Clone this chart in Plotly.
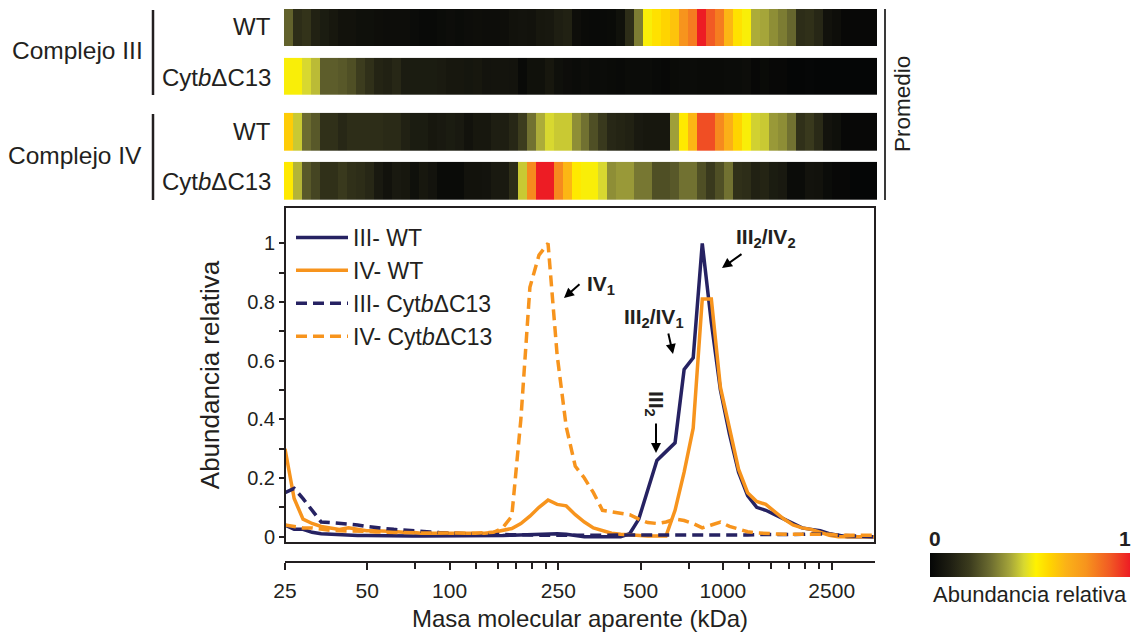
import math
import plotly.graph_objects as go

# ---------------- data ----------------
mw_kda = [25.0, 27.0, 29.1, 31.4, 33.9, 36.6, 39.5, 42.7, 46.1, 49.7,
          53.7, 57.9, 62.5, 67.5, 72.9, 78.7, 84.9, 91.6, 98.9, 106.8,
          115.2, 124.4, 134.3, 144.9, 156.4, 168.9, 182.3, 196.7, 212.4, 229.2,
          247.4, 267.1, 288.3, 311.2, 335.9, 362.5, 391.3, 422.4, 456.0, 492.2,
          531.2, 573.4, 619.0, 668.1, 721.2, 778.4, 840.2, 907.0, 979.0, 1056.7,
          1140.6, 1231.2, 1329.0, 1434.6, 1548.5, 1671.5, 1804.2, 1947.5, 2102.2, 2269.1,
          2449.3, 2643.8, 2853.8, 3080.4, 3325.1, 3589.1]
fraction = list(range(1, 67))

iii_wt = [0.04, 0.025, 0.025, 0.015, 0.01, 0.008, 0.006, 0.005, 0.004, 0.004,
          0.003, 0.003, 0.003, 0.003, 0.002, 0.002, 0.002, 0.002, 0.002, 0.002,
          0.002, 0.003, 0.003, 0.004, 0.004, 0.005, 0.006, 0.007, 0.008, 0.01,
          0.01, 0.008, 0.003, 0.0, 0.0, 0.0, 0.0, 0.0, 0.01, 0.06,
          0.16, 0.26, 0.29, 0.32, 0.57, 0.61, 1.0, 0.73, 0.5, 0.35,
          0.22, 0.14, 0.1, 0.09, 0.075, 0.06, 0.045, 0.03, 0.025, 0.02,
          0.01, 0.005, 0.0, 0.0, 0.0, 0.0]
iv_wt = [0.30, 0.13, 0.06, 0.045, 0.035, 0.03, 0.025, 0.03, 0.025, 0.02,
         0.02, 0.02, 0.018, 0.015, 0.015, 0.012, 0.012, 0.01, 0.01, 0.01,
         0.01, 0.01, 0.012, 0.015, 0.02, 0.028, 0.045, 0.07, 0.1, 0.125,
         0.11, 0.105, 0.075, 0.05, 0.03, 0.02, 0.012, 0.008, 0.005, 0.003,
         0.002, 0.002, 0.002, 0.09, 0.22, 0.37, 0.81, 0.81, 0.51, 0.37,
         0.23, 0.15, 0.12, 0.11, 0.085, 0.06, 0.04, 0.03, 0.025, 0.015,
         0.005, 0.0, 0.0, 0.0, 0.0, 0.0]
iii_cyt = [0.15, 0.165, 0.13, 0.09, 0.05, 0.048, 0.046, 0.044, 0.04, 0.035,
           0.03, 0.028, 0.025, 0.022, 0.02, 0.018, 0.016, 0.014, 0.012, 0.01,
           0.01, 0.009, 0.008, 0.008, 0.007, 0.007, 0.006, 0.006, 0.005, 0.005,
           0.005, 0.005, 0.005, 0.004, 0.004, 0.004, 0.004, 0.004, 0.004, 0.004,
           0.004, 0.004, 0.004, 0.004, 0.005, 0.005, 0.005, 0.005, 0.005, 0.006,
           0.006, 0.006, 0.007, 0.007, 0.008, 0.008, 0.008, 0.008, 0.01, 0.01,
           0.008, 0.005, 0.003, 0.002, 0.001, 0.0]
iv_cyt = [0.04, 0.035, 0.03, 0.03, 0.025, 0.022, 0.02, 0.02, 0.02, 0.018,
          0.016, 0.015, 0.015, 0.014, 0.014, 0.013, 0.013, 0.012, 0.012, 0.012,
          0.012, 0.012, 0.013, 0.015, 0.03, 0.07, 0.40, 0.85, 0.96, 1.0,
          0.62, 0.375, 0.24, 0.20, 0.15, 0.09, 0.085, 0.08, 0.075, 0.06,
          0.048, 0.045, 0.05, 0.06, 0.055, 0.045, 0.03, 0.04, 0.05, 0.035,
          0.025, 0.017, 0.013, 0.011, 0.01, 0.008, 0.008, 0.008, 0.008, 0.008,
          0.008, 0.005, 0.005, 0.005, 0.005, 0.005]

# heat-map rows (promedio, relative abundance 0-1 on colour scale)
hm_iii_wt = [0.28, 0.15, 0.17, 0.11, 0.09, 0.07, 0.05, 0.05, 0.04, 0.04,
             0.035, 0.03, 0.03, 0.03, 0.025, 0.015, 0.015, 0.025, 0.03, 0.025,
             0.03, 0.035,
             0.03, 0.03, 0.035, 0.05, 0.055, 0.05, 0.07, 0.075, 0.1, 0.11,
             0.035, 0.02, 0.015, 0.015, 0.02, 0.045, 0.15, 0.33, 0.52, 0.57,
             0.6, 0.64,
             0.78, 0.83, 1.0, 0.9, 0.83, 0.67, 0.57, 0.52, 0.41, 0.40,
             0.36, 0.33, 0.29, 0.15, 0.16, 0.13, 0.05, 0.035, 0.01, 0.01,
             0.01, 0.01]
hm_iii_cyt = [0.52, 0.52, 0.47, 0.43, 0.27, 0.27, 0.26, 0.24, 0.2, 0.16,
              0.12, 0.11, 0.13, 0.09, 0.09, 0.09, 0.09, 0.085, 0.07, 0.07,
              0.065, 0.07,
              0.055, 0.06, 0.06, 0.055, 0.015, 0.045, 0.045, 0.07, 0.04, 0.03,
              0.025, 0.03, 0.025, 0.025, 0.02, 0.015, 0.025, 0.025, 0.025, 0.015,
              0.01, 0.02,
              0.025, 0.025, 0.02, 0.02, 0.02, 0.025, 0.025, 0.03, 0.01, 0.02,
              0.01, 0.01, 0.0, 0.0, 0.005, 0.0, 0.0, 0.0, 0.0, 0.0,
              0.0, 0.0]
hm_iv_wt = [0.62, 0.45, 0.3, 0.26, 0.16, 0.16, 0.13, 0.15, 0.15, 0.15,
            0.15, 0.14, 0.14, 0.11, 0.09, 0.09, 0.07, 0.08, 0.09, 0.08,
            0.05, 0.07,
            0.07, 0.1, 0.1, 0.13, 0.2, 0.31, 0.41, 0.47, 0.45, 0.45,
            0.36, 0.31, 0.24, 0.19, 0.13, 0.12, 0.11, 0.08, 0.07, 0.07,
            0.07, 0.39,
            0.55, 0.67, 0.92, 0.92, 0.8, 0.69, 0.6, 0.52, 0.46, 0.45,
            0.38, 0.36, 0.31, 0.16, 0.19, 0.14, 0.055, 0.04, 0.01, 0.01,
            0.01, 0.01]
hm_iv_cyt = [0.55, 0.42, 0.26, 0.22, 0.16, 0.16, 0.19, 0.16, 0.15, 0.13,
             0.08, 0.05, 0.08, 0.07, 0.04, 0.07, 0.055, 0.02, 0.02, 0.02,
             0.05, 0.05,
             0.055, 0.08, 0.08, 0.15, 0.45, 0.8, 1.0, 1.0, 0.8, 0.67,
             0.55, 0.52, 0.52, 0.47, 0.36, 0.38, 0.38, 0.32, 0.32, 0.24,
             0.24, 0.26,
             0.31, 0.31, 0.24, 0.19, 0.24, 0.31, 0.16, 0.15, 0.11, 0.12,
             0.09, 0.08, 0.025, 0.025, 0.055, 0.05, 0.025, 0.01, 0.01, 0.0,
             0.0, 0.0]

row_labels = ["WT", "Cyt<i>b</i>ΔC13", "WT", "Cyt<i>b</i>ΔC13"]
group_labels = ["Complejo III", "Complejo IV"]
series_names = ["III- WT", "IV- WT", "III- Cyt<i>b</i>ΔC13", "IV- Cyt<i>b</i>ΔC13"]

x_major_ticks = [25, 50, 100, 250, 500, 1000, 2500]
x_minor_ticks = [75, 125, 150, 175, 200, 225, 750, 1250, 1500, 1750, 2000, 2250]
y_major_ticks = [0, 0.2, 0.4, 0.6, 0.8, 1]
y_major_text = ["0", "0.2", "0.4", "0.6", "0.8", "1"]
y_minor_ticks = [0.1, 0.3, 0.5, 0.7, 0.9]

# ---------------- style ----------------
W, H = 1133, 633
NAVY = "#262262"
ORANGE = "#f7941d"
TXT = "#231f20"
FONT = "Liberation Sans, Arial, sans-serif"

colorscale = [
    [0.0, "#050606"], [0.1, "#1e1e12"], [0.2, "#3c3c1e"], [0.3, "#6b6b30"],
    [0.4, "#a5a53a"], [0.47, "#d8d830"], [0.53, "#fff200"], [0.6, "#ffd400"],
    [0.68, "#fbb217"], [0.78, "#f7941d"], [0.9, "#f15a24"], [1.0, "#ed1c24"],
]


def px(x):
    return x / W


def py(y):
    return 1 - y / H


fig = go.Figure()

# ---------------- heat map rows ----------------
rows = [hm_iii_wt, hm_iii_cyt, hm_iv_wt, hm_iv_cyt]
row_px = [(9, 46), (57.7, 95), (112.7, 151), (161.7, 200)]
for k, (vals, (top, bot)) in enumerate(zip(rows, row_px)):
    n = k + 2
    fig.add_trace(go.Heatmap(z=[vals], x=fraction, y=[0], coloraxis="coloraxis",
                             xaxis=f"x{n}", yaxis=f"y{n}", hoverinfo="skip",
                             xgap=0, ygap=0))
    fig.layout[f"xaxis{n}"] = dict(domain=[px(284), px(877)], range=[0.5, 66.5],
                                   visible=False, anchor=f"y{n}", automargin=False)
    fig.layout[f"yaxis{n}"] = dict(domain=[py(bot), py(top)], range=[-0.5, 0.5],
                                   visible=False, anchor=f"x{n}", automargin=False)

# ---------------- profile lines ----------------
line_series = [
    (iii_wt, NAVY, "solid"),
    (iv_wt, ORANGE, "solid"),
    (iii_cyt, NAVY, "11px,6px"),
    (iv_cyt, ORANGE, "11px,6px"),
]
for (vals, col, dash), name in zip(line_series, series_names):
    fig.add_trace(go.Scatter(x=mw_kda, y=vals, mode="lines", name=name,
                             line=dict(color=col, width=3.5, dash=dash),
                             xaxis="x", yaxis="y"))

fig.update_layout(
    width=W, height=H,
    margin=dict(l=0, r=0, t=0, b=0, autoexpand=False),
    paper_bgcolor="white", plot_bgcolor="white",
    font=dict(family=FONT, color=TXT),
    showlegend=True,
    legend=dict(x=px(291), y=py(216), xanchor="left", yanchor="top",
                bgcolor="rgba(0,0,0,0)", font=dict(size=23, color=TXT),
                itemwidth=52, tracegroupgap=0),
    xaxis=dict(
        type="log", range=[math.log10(25), math.log10(3600)],
        domain=[px(285), px(875)], anchor="free", position=py(562),
        automargin=False,
        showline=True, linecolor=TXT, linewidth=2,
        ticks="outside", ticklen=7, tickwidth=1.5, tickcolor=TXT,
        tickvals=x_major_ticks, ticktext=[str(v) for v in x_major_ticks],
        tickfont=dict(size=21, color=TXT), ticklabelstandoff=3,
        minor=dict(tickvals=x_minor_ticks, ticks="outside", ticklen=6,
                   tickwidth=1.5, tickcolor=TXT, showgrid=False),
        showgrid=False, zeroline=False,
        title=dict(text="Masa molecular aparente (kDa)", font=dict(size=24, color=TXT),
                   standoff=8),
    ),
    yaxis=dict(
        domain=[py(543), py(207)], range=[-0.0215, 1.124], anchor="x",
        automargin=False,
        showline=False, ticks="outside", ticklen=5, tickwidth=2, tickcolor=TXT,
        tickvals=y_major_ticks, ticktext=y_major_text,
        tickfont=dict(size=20, color=TXT),
        minor=dict(tickvals=y_minor_ticks, ticks="outside", ticklen=5,
                   tickwidth=2, tickcolor=TXT, showgrid=False),
        showgrid=False, zeroline=False,
        title=dict(text="Abundancia relativa", font=dict(size=26, color=TXT),
                   standoff=20),
    ),
    coloraxis=dict(
        cmin=0, cmax=1, colorscale=colorscale, showscale=True,
        colorbar=dict(orientation="h", x=px(930), xanchor="left", y=py(553),
                      yanchor="top", len=200, lenmode="pixels", thickness=24,
                      xpad=0, ypad=0, outlinewidth=0, showticklabels=False,
                      ticks=""),
    ),
)

shapes = [
    # frame around line chart
    dict(type="rect", xref="x domain", yref="y domain", x0=0, x1=1, y0=0, y1=1,
         line=dict(color=TXT, width=2), layer="above"),
    # left brackets
    dict(type="line", xref="paper", yref="paper", x0=px(153), x1=px(153),
         y0=py(10), y1=py(95), line=dict(color=TXT, width=2.5)),
    dict(type="line", xref="paper", yref="paper", x0=px(153), x1=px(153),
         y0=py(114), y1=py(200), line=dict(color=TXT, width=2.5)),
    # right bracket (Promedio)
    dict(type="line", xref="paper", yref="paper", x0=px(885), x1=px(885),
         y0=py(9), y1=py(200), line=dict(color="#3a3a3a", width=2)),
]
fig.update_layout(shapes=shapes)


def label(text, x, y, size, xanchor="center", angle=0, bold=False):
    if bold:
        text = f"<b>{text}</b>"
    return dict(text=text, x=px(x), y=py(y), xref="paper", yref="paper",
                xanchor=xanchor, yanchor="middle", textangle=angle,
                showarrow=False, font=dict(size=size, color=TXT))


ann = []
ann.append(label(group_labels[0], 77, 50, 24.5))
ann.append(label(group_labels[1], 75, 155, 24.5))
for lab, yc in zip(row_labels, [27, 77, 131, 181]):
    ann.append(label(lab, 273, yc, 24, xanchor="right"))
ann.append(label("Promedio", 902, 104, 22.5, angle=-90))

# peak labels
ann.append(label("IV<sub>1</sub>", 601, 285, 21, bold=True))
ann.append(label("III<sub>2</sub>/IV<sub>2</sub>", 766, 238, 21, bold=True))
ann.append(label("III<sub>2</sub>/IV<sub>1</sub>", 654, 318, 21, bold=True))
ann.append(label("III<sub>2</sub>", 655, 404, 21, angle=90, bold=True))
# arrows
for hx, hy, axp, ayp in [(564, 298, 17, -15), (722, 268, 21, -15),
                         (673, 354, -5, -22), (656, 453, 0, -31)]:
    ann.append(dict(text="", x=px(hx), y=py(hy), xref="paper", yref="paper",
                    showarrow=True, ax=axp, ay=ayp, arrowhead=2, arrowsize=1,
                    arrowwidth=2, arrowcolor="black", standoff=0, startstandoff=0))

# colour bar labels
ann.append(label("0", 935, 538, 21, bold=True))
ann.append(label("1", 1125, 538, 21, bold=True))
ann.append(label("Abundancia relativa", 1030, 594, 22))

fig.update_layout(annotations=ann)

fig.write_html("out.html", config={"displayModeBar": False},
               post_script="document.body.style.margin='0';document.body.style.overflow='hidden';")
